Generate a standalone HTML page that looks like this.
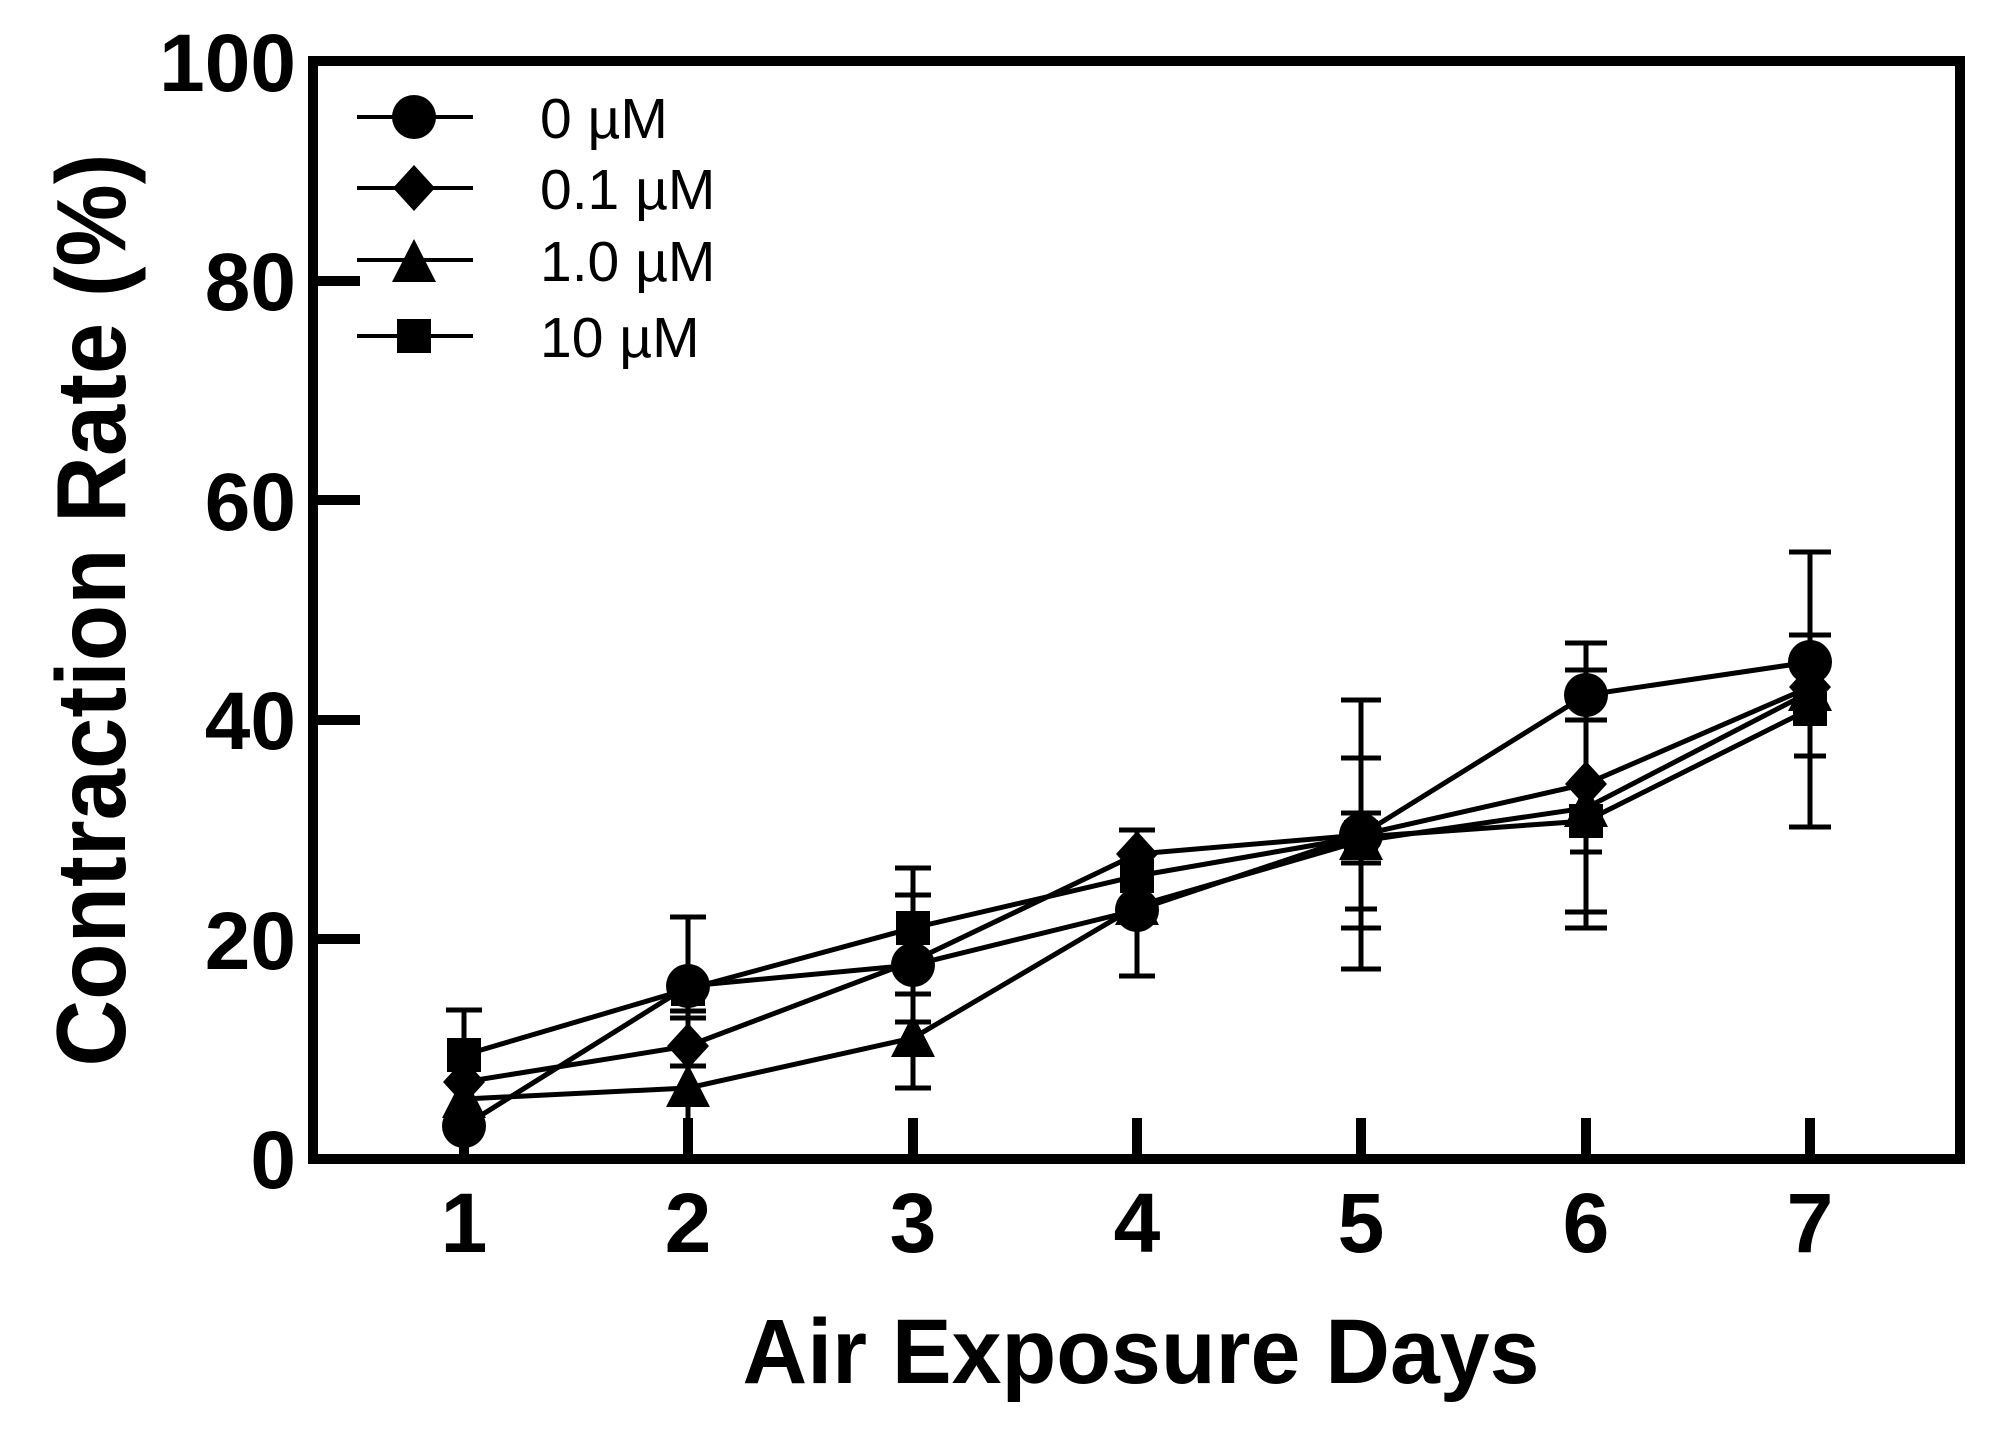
<!DOCTYPE html>
<html><head><meta charset="utf-8"><style>html,body{margin:0;padding:0;background:#fff}svg{display:block}</style></head>
<body>
<svg width="2005" height="1432" viewBox="0 0 2005 1432" xmlns="http://www.w3.org/2000/svg">
<rect width="2005" height="1432" fill="#fff"/>
<g font-family="Liberation Sans, Arial, sans-serif" fill="#000">
<!-- axes box -->
<rect x="313" y="61" width="1647" height="1098" fill="none" stroke="#000" stroke-width="10"/>
<!-- y ticks -->
<g stroke="#000" stroke-width="10">
<line x1="313" y1="281" x2="360" y2="281"/>
<line x1="313" y1="500" x2="360" y2="500"/>
<line x1="313" y1="720" x2="360" y2="720"/>
<line x1="313" y1="939" x2="360" y2="939"/>
<line x1="464" y1="1159" x2="464" y2="1118"/>
<line x1="688" y1="1159" x2="688" y2="1118"/>
<line x1="913" y1="1159" x2="913" y2="1118"/>
<line x1="1137" y1="1159" x2="1137" y2="1118"/>
<line x1="1361" y1="1159" x2="1361" y2="1118"/>
<line x1="1586" y1="1159" x2="1586" y2="1118"/>
<line x1="1810" y1="1159" x2="1810" y2="1118"/>
</g>
<g font-size="82" font-weight="bold" text-anchor="end">
<text x="296" y="91">100</text>
<text x="296" y="310">80</text>
<text x="296" y="530">60</text>
<text x="296" y="749">40</text>
<text x="296" y="969">20</text>
<text x="296" y="1188">0</text>
</g>
<g font-size="84" font-weight="bold" text-anchor="middle">
<text x="464" y="1252">1</text>
<text x="688" y="1252">2</text>
<text x="913" y="1252">3</text>
<text x="1137" y="1252">4</text>
<text x="1361" y="1252">5</text>
<text x="1586" y="1252">6</text>
<text x="1810" y="1252">7</text>
</g>
<text x="1141" y="1383" font-size="92" font-weight="bold" text-anchor="middle" textLength="797" lengthAdjust="spacingAndGlyphs">Air Exposure Days</text>
<text transform="translate(125,610) rotate(-90)" font-size="98" font-weight="bold" text-anchor="middle" textLength="913" lengthAdjust="spacingAndGlyphs">Contraction Rate (%)</text>

<!-- error bars -->
<g stroke="#000" stroke-width="5" fill="none">
<line x1="464" y1="1010" x2="464" y2="1159"/><line x1="446" y1="1010" x2="482" y2="1010"/>
<line x1="688" y1="917" x2="688" y2="1159"/>
<line x1="670" y1="917" x2="706" y2="917"/><line x1="670" y1="1011" x2="706" y2="1011"/><line x1="670" y1="1018" x2="706" y2="1018"/><line x1="670" y1="1066" x2="706" y2="1066"/>
<line x1="913" y1="868" x2="913" y2="1088"/>
<line x1="895" y1="868" x2="931" y2="868"/><line x1="895" y1="895" x2="931" y2="895"/><line x1="895" y1="994" x2="931" y2="994"/><line x1="895" y1="1022" x2="931" y2="1022"/><line x1="895" y1="1088" x2="931" y2="1088"/>
<line x1="1137" y1="830" x2="1137" y2="976"/>
<line x1="1119" y1="830" x2="1155" y2="830"/><line x1="1119" y1="976" x2="1155" y2="976"/>
<line x1="1361" y1="700" x2="1361" y2="969"/>
<line x1="1341" y1="700" x2="1381" y2="700"/><line x1="1341" y1="758" x2="1381" y2="758"/><line x1="1341" y1="813" x2="1381" y2="813"/><line x1="1341" y1="863" x2="1381" y2="863"/><line x1="1345" y1="909" x2="1377" y2="909"/><line x1="1341" y1="928" x2="1381" y2="928"/><line x1="1341" y1="969" x2="1381" y2="969"/>
<line x1="1586" y1="643" x2="1586" y2="928"/>
<line x1="1565" y1="643" x2="1607" y2="643"/><line x1="1565" y1="670" x2="1607" y2="670"/><line x1="1565" y1="720" x2="1607" y2="720"/><line x1="1570" y1="852" x2="1602" y2="852"/><line x1="1565" y1="912" x2="1607" y2="912"/><line x1="1565" y1="928" x2="1607" y2="928"/>
<line x1="1810" y1="552" x2="1810" y2="827"/>
<line x1="1789" y1="552" x2="1831" y2="552"/><line x1="1789" y1="635" x2="1831" y2="635"/><line x1="1794" y1="756" x2="1826" y2="756"/><line x1="1789" y1="827" x2="1831" y2="827"/>
</g>

<!-- series lines -->
<g stroke="#000" stroke-width="5" fill="none">
<polyline points="464,1126 688,986 913,965 1137,910 1361,835 1586,695 1810,662"/>
<polyline points="464,1082 688,1046 913,961 1137,854 1361,835 1586,784 1810,687"/>
<polyline points="464,1099 688,1088 913,1038 1137,906 1361,841 1586,808 1810,692"/>
<polyline points="464,1055 688,989 913,928 1137,876 1361,837 1586,821 1810,709"/>
</g>

<!-- markers -->
<defs>
<circle id="c" r="22"/>
<polygon id="d" points="0,-23 21,0 0,23 -21,0"/>
<polygon id="t" points="0,-24 22,19 -22,19"/>
<rect id="s" x="-17" y="-17" width="34" height="34"/>
</defs>
<g>
<use href="#c" x="464" y="1126"/><use href="#c" x="688" y="986"/><use href="#c" x="913" y="965"/><use href="#c" x="1137" y="910"/><use href="#c" x="1361" y="835"/><use href="#c" x="1586" y="695"/><use href="#c" x="1810" y="662"/>
<use href="#d" x="464" y="1082"/><use href="#d" x="688" y="1046"/><use href="#d" x="913" y="961"/><use href="#d" x="1137" y="854"/><use href="#d" x="1361" y="835"/><use href="#d" x="1586" y="784"/><use href="#d" x="1810" y="687"/>
<use href="#t" x="464" y="1099"/><use href="#t" x="688" y="1088"/><use href="#t" x="913" y="1038"/><use href="#t" x="1137" y="906"/><use href="#t" x="1361" y="841"/><use href="#t" x="1586" y="808"/><use href="#t" x="1810" y="692"/>
<use href="#s" x="464" y="1055"/><use href="#s" x="688" y="989"/><use href="#s" x="913" y="928"/><use href="#s" x="1137" y="876"/><use href="#s" x="1361" y="837"/><use href="#s" x="1586" y="821"/><use href="#s" x="1810" y="709"/>
</g>

<!-- legend -->
<g stroke="#000" stroke-width="4">
<line x1="357" y1="117" x2="473" y2="117"/>
<line x1="357" y1="188" x2="473" y2="188"/>
<line x1="357" y1="260" x2="473" y2="260"/>
<line x1="357" y1="336" x2="473" y2="336"/>
</g>
<use href="#c" x="414" y="117"/>
<use href="#d" x="414" y="188"/>
<use href="#t" x="414" y="263"/>
<use href="#s" x="414" y="336"/>
<g font-size="57">
<text x="540" y="138">0 µM</text>
<text x="540" y="209">0.1 µM</text>
<text x="540" y="281">1.0 µM</text>
<text x="540" y="357">10 µM</text>
</g>
</g>
</svg>
</body></html>
